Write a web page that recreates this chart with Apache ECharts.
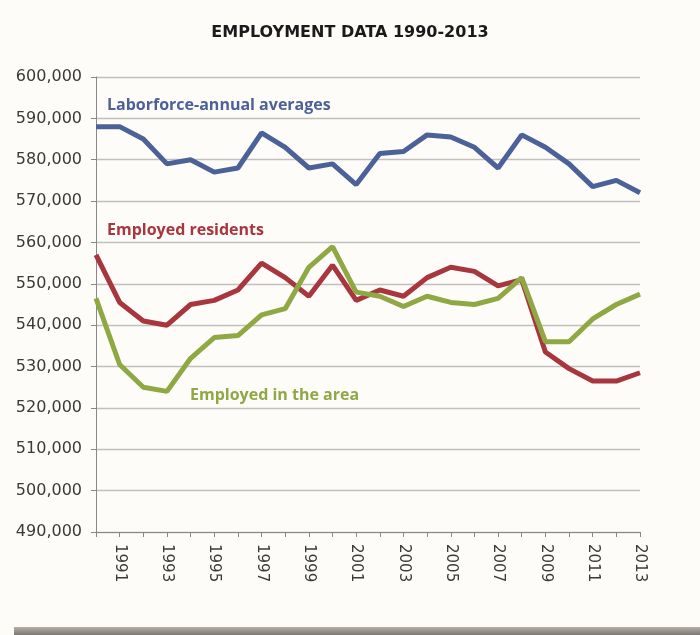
<!DOCTYPE html>
<html lang="en">
<head>
    <meta charset="UTF-8" />
    <title>Employment data</title>
    <script src="https://cdn.jsdelivr.net/npm/echarts@6/dist/echarts.min.js"></script>
    <style>
        body { margin: 0; background: #fdfcf8; }
    </style>
</head>
<body>
    <div id="main" style="width: 700px; height: 635px"></div>
    <script>
        var years = []
        for (var y = 1990; y <= 2013; y++) years.push(String(y))

        // 劳动力年平均
        var laborforce = [588000, 588000, 585000, 579000, 580000, 577000, 578000, 586500, 583000, 578000, 579000, 574000,
            581500, 582000, 586000, 585500, 583000, 578000, 586000, 583000, 579000, 573500, 575000, 572000]
        // 就业居民
        var residents = [557000, 545500, 541000, 540000, 545000, 546000, 548500, 555000, 551500, 547000, 554500, 546000,
            548500, 547000, 551500, 554000, 553000, 549500, 551000, 533500, 529500, 526500, 526500, 528500]
        // 本地区就业
        var inArea = [546500, 530500, 525000, 524000, 532000, 537000, 537500, 542500, 544000, 554000, 559000, 548000,
            547000, 544500, 547000, 545500, 545000, 546500, 551500, 536000, 536000, 541500, 545000, 547500]

        var font = '"Open Sans", "Noto Sans", sans-serif'
        var axisFont = '"DejaVu Sans", sans-serif'
        var mCharts = echarts.init(document.getElementById('main'))

        function line(name, data, color) {
            return {
                name: name,
                type: 'line',
                data: data,
                symbol: 'none',
                lineStyle: { color: color, width: 5 },
                itemStyle: { color: color }
            }
        }

        var option = {
            backgroundColor: '#fdfcf8',
            animation: false,
            title: {
                text: 'EMPLOYMENT DATA 1990-2013',
                left: 'center',
                top: 20,
                textStyle: { fontFamily: axisFont, fontSize: 16, fontWeight: 'bold', color: '#1a1a1a' }
            },
            grid: { left: 96, right: 60, top: 77, bottom: 103 },
            xAxis: {
                type: 'category',
                data: years,
                boundaryGap: false,
                axisLine: { lineStyle: { color: '#888' } },
                axisTick: { show: true, interval: 0, length: 5, lineStyle: { color: '#888' } },
                axisLabel: {
                    rotate: -90,
                    interval: function (i, v) { return Number(v) % 2 === 1 },
                    fontFamily: axisFont,
                    fontSize: 15,
                    color: '#3a3a3a',
                    margin: 12
                }
            },
            yAxis: {
                type: 'value',
                min: 490000,
                max: 600000,
                interval: 10000,
                axisLine: { show: true, lineStyle: { color: '#888' } },
                axisTick: { show: true, length: 5, lineStyle: { color: '#888' } },
                splitLine: { lineStyle: { color: '#c2c0bc', width: 1.3 } },
                axisLabel: {
                    fontFamily: axisFont,
                    fontSize: 16,
                    color: '#3a3a3a',
                    margin: 14,
                    formatter: function (v) { return v.toLocaleString('en-US') }
                }
            },
            series: [
                line('Laborforce-annual averages', laborforce, '#4d6199'),
                line('Employed residents', residents, '#a8363f'),
                line('Employed in the area', inArea, '#8fa844')
            ],
            graphic: [
                { type: 'text', left: 107, top: 97, style: { text: 'Laborforce-annual averages', fill: '#4d6199', font: 'bold 16px ' + font } },
                { type: 'text', left: 107, top: 222, style: { text: 'Employed residents', fill: '#a8363f', font: 'bold 16px ' + font } },
                { type: 'text', left: 190, top: 387, style: { text: 'Employed in the area', fill: '#8fa844', font: 'bold 16px ' + font } },
                // 底部阴影条
                {
                    type: 'rect', left: 14, top: 627, shape: { width: 686, height: 8 },
                    style: {
                        fill: new echarts.graphic.LinearGradient(0, 0, 0, 1, [
                            { offset: 0, color: '#b5afa8' }, { offset: 1, color: '#7d7771' }
                        ])
                    }
                }
            ]
        }
        mCharts.setOption(option)
    </script>
</body>
</html>
